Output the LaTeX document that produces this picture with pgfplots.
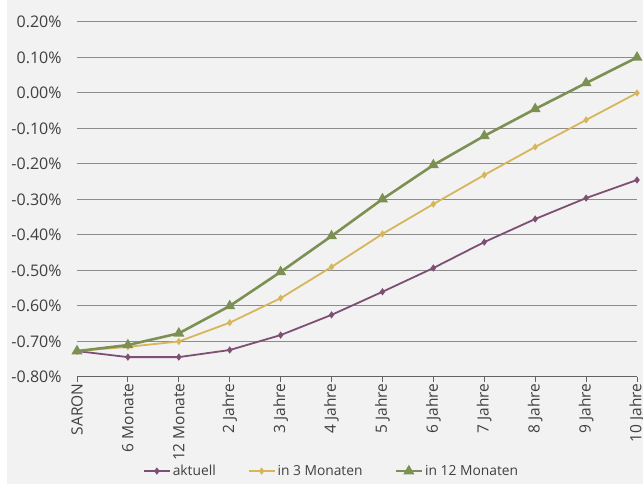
\documentclass[border=0pt]{standalone}
\usepackage{fontspec}
\setmainfont{Open Sans}
\usepackage{pgfplots}
\pgfplotsset{compat=1.18}
\definecolor{bg}{HTML}{F2F2F2}
\definecolor{cA}{HTML}{7D4F73}
\definecolor{cB}{HTML}{D6B65A}
\definecolor{cC}{HTML}{7C9053}
\definecolor{gridc}{HTML}{8C8C8C}
\definecolor{txt}{HTML}{404040}
\begin{document}
\begin{tikzpicture}[x=1bp,y=1bp]
\useasboundingbox (0,0) rectangle (643,484);
\fill[white] (0,0) rectangle (643,484);
\fill[bg] (7,0) rectangle (643,484);
\begin{axis}[
  at={(77bp,107bp)}, anchor=south west,
  scale only axis, width=560bp, height=355bp,
  xmin=0, xmax=11, ymin=-0.8, ymax=0.2,
  clip=false,
  separate axis lines,
  axis x line*=bottom, axis y line*=left,
  x axis line style={draw=gridc!70!black, line width=1pt},
  y axis line style={draw=none},
  ytick={-0.8,-0.7,-0.6,-0.5,-0.4,-0.3,-0.2,-0.1,0,0.1,0.2},
  yticklabels={-0.80\%,-0.70\%,-0.60\%,-0.50\%,-0.40\%,-0.30\%,-0.20\%,-0.10\%,0.00\%,0.10\%,0.20\%},
  ymajorgrids, grid style={draw=gridc, line width=1pt},
  ytick style={draw=none},
  y tick label style={font=\fontsize{16bp}{19bp}\selectfont, text=txt, anchor=east, xshift=-7bp},
  xtick={0,...,11},
  xticklabels={SARON,6 Monate,12 Monate,2 Jahre,3 Jahre,4 Jahre,5 Jahre,6 Jahre,7 Jahre,8 Jahre,9 Jahre,10 Jahre},
  x tick label style={font=\fontsize{15.5bp}{18bp}\selectfont, text=txt, rotate=90, anchor=east, xshift=2bp},
  xtick style={draw=gridc!70!black, line width=1pt},
  tick align=outside, major tick length=5bp,
  legend columns=3,
  legend style={at={(0.4545,-0.265)}, anchor=center, draw=none, fill=none,
    font=\fontsize{13.8bp}{16bp}\selectfont, text=txt,
    /tikz/every even column/.append style={column sep=30bp}},
  legend cell align=left,
  legend image code/.code={\draw[mark repeat=2,mark phase=2,#1] plot coordinates {(0bp,0bp) (13bp,0bp) (26bp,0bp)};},
]
\addplot[cA, line width=1.8pt, mark=diamond*, mark size=2.2pt] coordinates {
(0,-0.727) (1,-0.744) (2,-0.744) (3,-0.724) (4,-0.682) (5,-0.625) (6,-0.560) (7,-0.493) (8,-0.420) (9,-0.355) (10,-0.296) (11,-0.245)};
\addlegendentry{aktuell}
\addplot[cB, line width=1.8pt, mark=diamond*, mark size=2.2pt] coordinates {
(0,-0.727) (1,-0.715) (2,-0.700) (3,-0.647) (4,-0.578) (5,-0.490) (6,-0.397) (7,-0.313) (8,-0.231) (9,-0.152) (10,-0.076) (11,0.000)};
\addlegendentry{in 3 Monaten}
\addplot[cC, line width=2.6pt, mark=triangle*, mark size=3.8pt] coordinates {
(0,-0.727) (1,-0.710) (2,-0.677) (3,-0.600) (4,-0.504) (5,-0.403) (6,-0.299) (7,-0.203) (8,-0.121) (9,-0.045) (10,0.028) (11,0.100)};
\addlegendentry{in 12 Monaten}
\end{axis}
\end{tikzpicture}
\end{document}
